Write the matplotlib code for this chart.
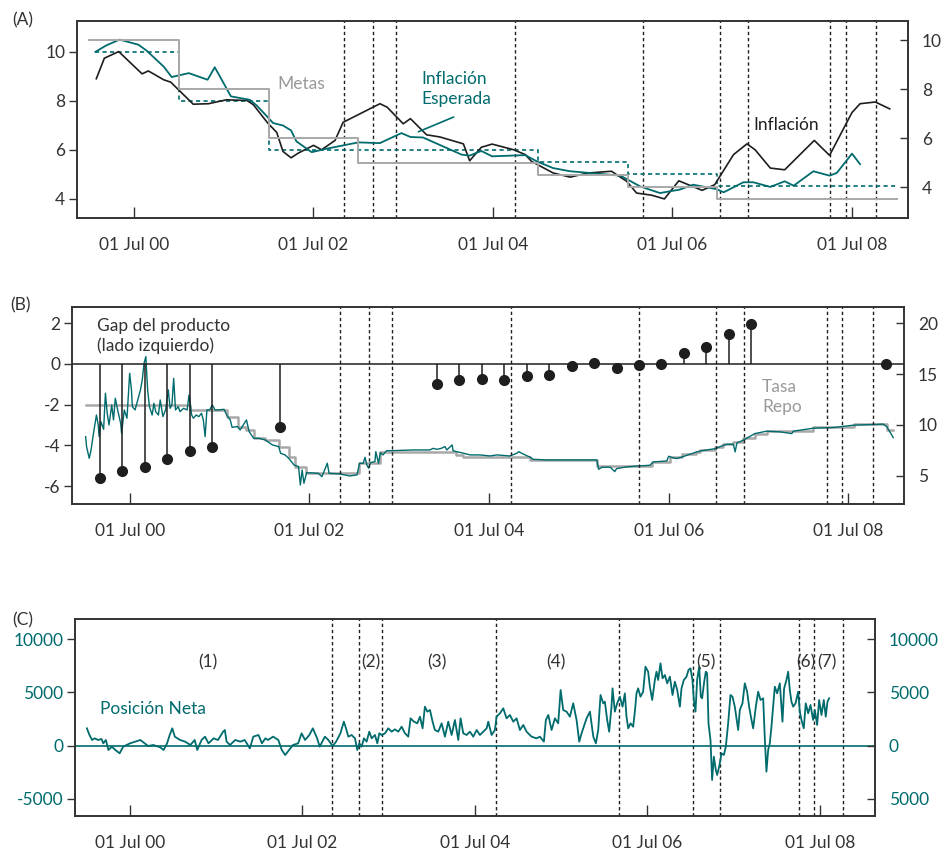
import matplotlib
matplotlib.use("Agg")
import matplotlib.pyplot as plt

plt.rcParams['font.family'] = ['Lato', 'DejaVu Sans']
plt.rcParams['axes.unicode_minus'] = False

TEAL = '#006b6d'
GREY = '#a8a8a8'
BLACK = '#1e1e1e'
TXT = '#333333'

# dates as decimal years
events = [2002.84, 2003.16, 2003.42, 2004.74, 2006.17, 2007.03, 2007.34, 2008.26, 2008.43, 2008.77]
xtick_pos = [2000.5, 2002.5, 2004.5, 2006.5, 2008.5]
xtick_lab = ['01 Jul 00', '01 Jul 02', '01 Jul 04', '01 Jul 06', '01 Jul 08']

# ---- panel A: inflation ----
infl_t = [2000.08, 2000.17, 2000.33, 2000.59, 2000.66, 2000.83, 2000.91, 2001.16, 2001.33, 2001.53,
          2001.76, 2001.83, 2001.99, 2002.09, 2002.16, 2002.25, 2002.33, 2002.50, 2002.59, 2002.74,
          2002.83, 2003.24, 2003.32, 2003.50, 2003.58, 2003.76, 2003.91, 2004.17, 2004.24, 2004.37,
          2004.49, 2004.73, 2004.86, 2004.93, 2005.17, 2005.36, 2005.56, 2005.82, 2005.99, 2006.10,
          2006.27, 2006.41, 2006.57, 2006.83, 2006.97, 2007.18, 2007.33, 2007.42, 2007.59, 2007.75,
          2008.08, 2008.25, 2008.50, 2008.59, 2008.76, 2008.92]
infl_v = [8.90, 9.74, 10.01, 9.10, 9.22, 8.86, 8.76, 7.86, 7.88, 8.04,
          8.01, 7.84, 7.09, 6.71, 5.93, 5.67, 5.86, 6.18, 6.00, 6.38,
          7.12, 7.88, 7.74, 7.06, 7.27, 6.61, 6.52, 6.24, 5.55, 6.10,
          6.23, 6.00, 5.80, 5.52, 5.05, 4.88, 5.05, 5.12, 4.71, 4.23,
          4.14, 3.99, 4.73, 4.34, 4.57, 5.80, 6.24, 6.00, 5.25, 5.18,
          6.38, 5.77, 7.52, 7.88, 7.95, 7.67]

exp_t = [2000.07, 2000.19, 2000.34, 2000.55, 2000.64, 2000.83, 2000.92, 2001.11, 2001.32, 2001.40,
         2001.58, 2001.79, 2001.87, 2002.05, 2002.16, 2002.25, 2002.31, 2002.48, 2002.63, 2003.00,
         2003.24, 2003.48, 2003.58, 2003.72, 2004.15, 2004.24, 2004.37, 2004.49, 2004.86, 2004.99,
         2005.17, 2005.36, 2005.92, 2006.14, 2006.36, 2006.58, 2006.73, 2006.99, 2007.07, 2007.29,
         2007.40, 2007.59, 2007.75, 2007.85, 2008.07, 2008.25, 2008.33, 2008.50, 2008.59]
exp_v = [10.00, 10.26, 10.50, 10.29, 10.05, 9.40, 8.97, 9.13, 8.86, 9.37,
         8.18, 8.04, 7.80, 7.09, 6.99, 6.79, 6.34, 5.90, 6.03, 6.30,
         6.27, 6.68, 6.52, 6.50, 5.80, 5.76, 5.95, 5.73, 5.78, 5.52,
         5.25, 5.12, 4.94, 4.50, 4.23, 4.37, 4.57, 4.39, 4.26, 4.67,
         4.67, 4.48, 4.71, 4.53, 5.12, 4.94, 5.05, 5.84, 5.41]

target_edges = [2000.07, 2001.0, 2002.0, 2005.0, 2006.0, 2007.0, 2009.0]
target_vals = [10.0, 8.0, 6.0, 5.5, 5.0, 4.5]

metas_edges = [2000.0, 2001.0, 2002.0, 2003.0, 2005.0, 2006.0, 2007.0, 2009.0]
metas_vals = [10.0, 8.0, 6.0, 5.0, 4.5, 4.0, 3.5]

# ---- panel B: output gap and repo rate ----
gap_t = [2000.17, 2000.42, 2000.67, 2000.92, 2001.17, 2001.42, 2002.17, 2003.92, 2004.17, 2004.42,
         2004.67, 2004.92, 2005.17, 2005.42, 2005.67, 2005.92, 2006.17, 2006.42, 2006.67, 2006.92,
         2007.17, 2007.42, 2008.92]
gap_v = [-5.61, -5.27, -5.04, -4.65, -4.27, -4.06, -3.09, -0.98, -0.77, -0.74,
         -0.77, -0.61, -0.52, -0.10, 0.05, -0.21, -0.05, -0.02, 0.54, 0.83,
         1.49, 1.96, 0.0]

repo_t = [2000.01, 2001.17, 2001.58, 2001.71, 2001.79, 2001.88, 2002.01, 2002.16, 2002.27, 2002.34,
          2002.46, 2003.05, 2003.29, 2004.13, 2004.21, 2004.96, 2005.70, 2006.31, 2006.52, 2006.65,
          2006.80, 2006.85, 2007.02, 2007.11, 2007.22, 2007.33, 2007.46, 2007.59, 2008.11, 2008.56,
          2008.93, 2009.00]
repo_v = [12.0, 11.5, 10.8, 9.76, 9.5, 8.68, 8.5, 7.86, 6.87, 5.89,
          5.3, 6.28, 7.36, 7.04, 6.81, 6.55, 5.95, 6.35, 6.84, 7.17,
          7.34, 7.5, 7.83, 8.16, 8.32, 8.75, 9.14, 9.38, 9.74, 10.07,
          9.54, 9.54]

tib_t = [2000.01, 2000.02, 2000.05, 2000.07, 2000.10, 2000.13, 2000.15, 2000.16, 2000.18, 2000.21,
         2000.23, 2000.25, 2000.27, 2000.30, 2000.32, 2000.34, 2000.37, 2000.40, 2000.41, 2000.44,
         2000.47, 2000.50, 2000.52, 2000.53, 2000.56, 2000.58, 2000.62, 2000.64, 2000.66, 2000.68,
         2000.70, 2000.72, 2000.75, 2000.77, 2000.79, 2000.82, 2000.84, 2000.87, 2000.90, 2000.93,
         2000.95, 2000.97, 2000.99, 2001.01, 2001.04, 2001.06, 2001.10, 2001.14, 2001.16, 2001.19,
         2001.21, 2001.24, 2001.27, 2001.30, 2001.32, 2001.34, 2001.36, 2001.39, 2001.42, 2001.45,
         2001.49, 2001.55, 2001.58, 2001.62, 2001.64, 2001.70, 2001.73, 2001.80, 2001.83, 2001.88,
         2001.94, 2002.01, 2002.09, 2002.16, 2002.18, 2002.23, 2002.27, 2002.33, 2002.38, 2002.40,
         2002.42, 2002.44, 2002.47, 2002.60, 2002.64, 2002.70, 2002.72,
         2002.84, 2002.95, 2003.03, 2003.06, 2003.10, 2003.12, 2003.14, 2003.16, 2003.18, 2003.23,
         2003.24, 2003.27, 2003.29, 2003.32, 2003.36, 2003.42, 2003.66, 2003.84, 2003.88, 2003.92,
         2003.97, 2004.01, 2004.03, 2004.09, 2004.10, 2004.14, 2004.22, 2004.29, 2004.40, 2004.51,
         2004.59, 2004.73, 2004.81, 2004.83, 2004.88, 2004.96, 2004.99, 2005.14, 2005.33, 2005.63,
         2005.70, 2005.72, 2005.76, 2005.85, 2005.90,
         2005.92, 2006.03, 2006.15, 2006.29, 2006.33, 2006.48, 2006.50, 2006.54, 2006.59, 2006.65,
         2006.78, 2006.85, 2007.02, 2007.11, 2007.15, 2007.22, 2007.24, 2007.26, 2007.33, 2007.46,
         2007.59, 2007.74, 2007.87, 2007.89, 2008.11, 2008.34, 2008.56, 2008.89, 2008.93, 2008.97,
         2009.00]
tib_v = [8.84, 7.86, 6.71, 7.53, 9.33, 10.97, 9.99, 8.84, 10.32, 9.56,
         13.11, 11.14, 9.99, 11.96, 10.48, 12.62, 11.30, 10.15, 9.17, 11.47,
         10.65, 15.08, 13.44, 11.79, 11.47, 12.12, 13.44, 14.42, 16.06, 16.72,
         13.44, 11.79, 10.97, 12.12, 11.30, 10.97, 12.45, 10.81, 11.47, 13.44,
         11.63, 11.96, 14.58, 11.47, 11.79, 11.30, 11.63, 11.47, 12.94, 10.97,
         10.65, 10.97, 10.81, 11.14, 10.48, 8.84, 11.47, 11.47, 11.96, 11.47,
         11.47, 11.53, 10.97, 10.48, 9.76, 9.83, 9.50, 10.48, 9.33, 8.68,
         8.68, 8.51, 8.02, 7.86, 7.20, 7.04, 6.71, 6.05, 5.89, 4.08,
         5.56, 4.25, 5.30, 5.23, 4.90, 6.22, 5.23,
         5.17, 4.97, 5.07, 6.22, 6.22, 6.81, 6.05, 5.73, 6.28, 6.38,
         7.36, 6.22, 7.27, 7.04, 7.46, 7.46, 7.53, 7.53, 7.69, 7.59,
         7.69, 7.86, 7.53, 8.02, 7.46, 7.36, 7.20, 7.04, 7.04, 6.94,
         7.04, 6.94, 7.20, 7.36, 7.13, 6.81, 6.61, 6.55, 6.55, 6.55,
         6.55, 5.63, 5.83, 5.83, 5.40,
         5.69, 5.86, 5.95, 6.02, 6.35, 6.45, 6.91, 6.78, 6.68, 6.84,
         7.24, 7.43, 7.66, 7.99, 8.09, 8.09, 7.34, 8.22, 8.49, 9.14,
         9.38, 9.31, 9.14, 9.38, 9.67, 9.74, 9.97, 10.07, 9.80, 9.21,
         8.75]

# ---- panel C: net position ----
pos_t = [2000.00, 2000.03, 2000.06, 2000.09, 2000.13, 2000.17, 2000.19, 2000.22, 2000.25, 2000.29,
         2000.33, 2000.38, 2000.42, 2000.46, 2000.50, 2000.56, 2000.62, 2000.67, 2000.71, 2000.77,
         2000.85, 2000.89, 2000.93, 2000.96, 2000.99, 2001.02, 2001.08, 2001.14, 2001.20, 2001.25,
         2001.28, 2001.33, 2001.37, 2001.41, 2001.47, 2001.52, 2001.58, 2001.60, 2001.62, 2001.66,
         2001.72, 2001.78, 2001.83, 2001.89, 2001.93, 2001.99, 2002.03, 2002.07, 2002.10, 2002.16,
         2002.22, 2002.26, 2002.30, 2002.36, 2002.39, 2002.45, 2002.49, 2002.53, 2002.58, 2002.62,
         2002.67, 2002.70, 2002.76, 2002.80, 2002.85, 2002.89, 2002.94, 2002.98,
         2003.005, 2003.032, 2003.070, 2003.109, 2003.136, 2003.159, 2003.186, 2003.213, 2003.244, 2003.275,
         2003.302, 2003.341, 2003.368, 2003.391, 2003.418, 2003.457, 2003.495, 2003.534, 2003.573, 2003.611,
         2003.650, 2003.689, 2003.727, 2003.754, 2003.793, 2003.832, 2003.863, 2003.893, 2003.920, 2003.948,
         2003.979, 2004.009, 2004.036, 2004.075, 2004.114, 2004.152, 2004.191, 2004.230, 2004.268, 2004.307,
         2004.334, 2004.365, 2004.404, 2004.442, 2004.481, 2004.520, 2004.558, 2004.597, 2004.636, 2004.655,
         2004.694, 2004.732, 2004.751, 2004.790, 2004.829, 2004.867, 2004.906, 2004.945, 2004.983, 2005.022,
         2005.061, 2005.099, 2005.157, 2005.215, 2005.254, 2005.300, 2005.323, 2005.351, 2005.389, 2005.428,
         2005.466, 2005.494, 2005.524, 2005.563, 2005.602, 2005.640, 2005.679, 2005.710, 2005.737, 2005.795,
         2005.834, 2005.873, 2005.903, 2005.930, 2005.957, 2005.988,
         2006.007, 2006.034, 2006.057, 2006.084, 2006.096, 2006.123, 2006.150, 2006.181, 2006.212, 2006.239,
         2006.258, 2006.278, 2006.305, 2006.335, 2006.355, 2006.374, 2006.393, 2006.420, 2006.451, 2006.478,
         2006.509, 2006.529, 2006.556, 2006.587, 2006.606, 2006.625, 2006.652, 2006.676, 2006.703, 2006.730,
         2006.761, 2006.792, 2006.819, 2006.846, 2006.877, 2006.896, 2006.923, 2006.954, 2006.977, 2007.000,
         2007.023, 2007.039, 2007.058, 2007.077, 2007.101, 2007.120, 2007.135, 2007.159, 2007.178, 2007.193,
         2007.209, 2007.232, 2007.251, 2007.271, 2007.294, 2007.309, 2007.333, 2007.360, 2007.387, 2007.410,
         2007.437, 2007.464, 2007.487, 2007.514, 2007.534, 2007.553, 2007.572, 2007.603, 2007.630, 2007.657,
         2007.680, 2007.708, 2007.727, 2007.758, 2007.785, 2007.812, 2007.843, 2007.862, 2007.881, 2007.901,
         2007.920, 2007.939, 2007.959, 2007.978, 2008.005, 2008.036, 2008.067, 2008.086, 2008.113, 2008.133,
         2008.152, 2008.171, 2008.191, 2008.218, 2008.249, 2008.268, 2008.287, 2008.314, 2008.337, 2008.365,
         2008.392, 2008.422, 2008.442, 2008.469, 2008.492, 2008.519, 2008.546, 2008.569, 2008.589, 2008.608]
pos_v = [1629, 1004, 535, 691, 535, 628, 222, 535, -403, -91,
         -403, -716, -91, 66, 222, 378, 535, 222, -28, 66,
         -153, -403, 222, 1004, 1629, 847, 535, 378, 66, 535,
         -403, 535, 847, 222, 691, 535, 1316, 1473, 378, 66,
         535, 378, 535, -247, 847, 1004, 222, 691, 535, 847,
         535, -403, -872, -247, 66, 222, 1160, 535, 1004, 1629,
         691, -91, 847, 535, -28, 378, 1160, 2254,
         1629, 847, 1004, 691, -403, 222, -91, 691, 378, 1316,
         691, 1004, 222, 1160, 1004, 1160, 1629, 1316, 1535, 1316,
         1785, 1160, 847, 2567, 2254, 2098, 2723, 1629, 3661, 3192,
         3349, 2254, 1473, 1316, 2098, 847, 2254, 1004, 2411, 535,
         2567, 1160, 1004, 1316, 847, 1473, 1004, 1316, 1629, 2254,
         1004, 1473, 2723, 3036, 3505, 2567, 2880, 2254, 2567, 1473,
         1941, 1316, 847, 691, 847, 378, 2411, 2880, 1473, 2567,
         2098, 5225, 3349, 3192, 2723, 3974, 2411, 378, 1160, 2567,
         3192, 847, 222, 1473, 4756, 3974,
         4130, 2411, 1316, 3661, 5381, 3192, 3974, 4599, 3661, 4912,
         2723, 1629, 2098, 1785, 3192, 4912, 5381, 4599, 5068, 7413,
         6944, 5537, 4287, 6163, 6944, 6163, 7726, 6319, 6632, 5850,
         6475, 4756, 6006, 5225, 3661, 5381, 6163, 6475, 7101, 7257,
         6163, 4287, 3192, 6163, 7413, 4599, 4443, 6006, 6944, 6788,
         2098, 535, -3217, -1029, -2279, -2748, -1967, -716, -872, -91,
         2098, 4756, 4599, 3661, 2567, 1473, 3349, 3974, 5850, 5068,
         3661, 2411, 1629, 3661, 5068, 4287, 4443, 691, -2436, -403,
         222, 1785, 3661, 5537, 4912, 5850, 2254, 5381, 6163, 6944,
         5225, 4130, 3661, 3974, 5068, 3192, 2411, 1629, 3974, 3036,
         3818, 2411, 3349, 1941, 4287, 2880, 4287, 2723, 4130, 4443]

period_t = [2001.40, 2003.29, 2004.06, 2005.44, 2007.18, 2008.34, 2008.58]
period_lab = ['(1)', '(2)', '(3)', '(4)', '(5)', '(6)', '(7)']

W, H = 944, 851
fig = plt.figure(figsize=(W / 100, H / 100), dpi=100)


def frame(left, right, top, bottom):
    return fig.add_axes([left / W, 1 - bottom / H, (right - left) / W, (bottom - top) / H])


def style(ax, xlim, ycolor=TXT):
    ax.set_xlim(*xlim)
    ax.set_xticks(xtick_pos)
    ax.set_xticklabels(xtick_lab)
    ax.tick_params(axis='x', direction='in', length=8, width=1, pad=13.5,
                   labelsize=12.5, labelcolor=TXT, color='#333333')
    ax.tick_params(axis='y', direction='out', length=5.5, width=1, pad=3,
                   labelsize=12.5, labelcolor=ycolor, color='#333333')
    for s in ax.spines.values():
        s.set_linewidth(1.2)
        s.set_color('#333333')
    for e in events:
        ax.axvline(e, color=BLACK, lw=1.0, ls=(0, (2.4, 2.0)), zorder=1)


def style_right(ax, ycolor=TXT):
    ax.tick_params(axis='y', direction='in', length=6, width=1, pad=10,
                   labelsize=12.5, labelcolor=ycolor, color='#333333')
    for s in ax.spines.values():
        s.set_linewidth(1.2)
        s.set_color('#333333')


# ---------------- (A) ----------------
axA = frame(77, 908, 21, 218)
style(axA, (1999.865, 2009.124))
axA.set_ylim(3.21, 11.26)
axA.set_yticks([4, 6, 8, 10])
axA.plot(infl_t, infl_v, color=BLACK, lw=1.2, zorder=3)
axA.plot(exp_t, exp_v, color=TEAL, lw=1.3, zorder=3)
axA.step(target_edges, target_vals + [target_vals[-1]], where='post',
         color=TEAL, lw=1.2, ls=(0, (2.5, 2.0)), zorder=2)
axAR = axA.twinx()
axAR.set_ylim(2.74, 10.79)
axAR.set_yticks([4, 6, 8, 10])
style_right(axAR)
axAR.step(metas_edges, metas_vals + [metas_vals[-1]], where='post', color=GREY, lw=1.4)

axA.text(2002.36, 8.68, 'Metas', color='#9a9a9a', fontsize=12.5, ha='center', va='center')
axA.text(2003.70, 8.48, 'Inflación\nEsperada', color=TEAL, fontsize=12.5, ha='left',
         va='center', linespacing=1.25)
axA.annotate('', xy=(2003.64, 6.69), xytext=(2004.09, 7.38),
             arrowprops=dict(arrowstyle='-', color=TEAL, lw=1.2))
axA.text(2007.40, 7.01, 'Inflación', color=BLACK, fontsize=12.5, ha='left', va='center')
fig.text(12 / W, 1 - 20 / H, '(A)', fontsize=12.5, color=TXT, va='center')

# ---------------- (B) ----------------
axB = frame(72, 904, 307, 504)
style(axB, (1999.858, 2009.12))
axB.set_ylim(-6.88, 2.80)
axB.set_yticks([-6, -4, -2, 0, 2])
axB.axhline(0, color=BLACK, lw=1.1, zorder=2)
axBR = axB.twinx()
axBR.set_ylim(2.21, 21.6)
axBR.set_yticks([5, 10, 15, 20])
style_right(axBR)
axBR.step(repo_t, repo_v, where='post', color=GREY, lw=1.8, zorder=2)
axBR.plot(tib_t, tib_v, color=TEAL, lw=1.0, zorder=3)
axB.set_zorder(axBR.get_zorder() + 1)
axB.patch.set_visible(False)
axB.vlines(gap_t, 0, gap_v, color=BLACK, lw=1.1, zorder=3)
axB.plot(gap_t, gap_v, 'o', color=BLACK, ms=7, zorder=4)

axB.text(2000.14, 1.38, 'Gap del producto\n(lado izquierdo)', color=TXT, fontsize=12.5,
         ha='left', va='center', linespacing=1.25)
axB.text(2007.54, -1.62, 'Tasa\nRepo', color='#9a9a9a', fontsize=12.5, ha='left',
         va='center', linespacing=1.25)
fig.text(10 / W, 1 - 305 / H, '(B)', fontsize=12.5, color=TXT, va='center')

# ---------------- (C) ----------------
axC = frame(75, 875, 619, 816)
style(axC, (1999.862, 2009.14), ycolor=TEAL)
axC.set_ylim(-6595, 11885)
axC.set_yticks([-5000, 0, 5000, 10000])
axC.set_yticklabels(['-5000', '0', '5000', '10000'])
axC.axhline(0, color=TEAL, lw=1.2, zorder=2)
axC.plot(pos_t, pos_v, color=TEAL, lw=1.3, zorder=3)
axCR = axC.twinx()
axCR.set_ylim(-6595, 11885)
axCR.set_yticks([-5000, 0, 5000, 10000])
axCR.set_yticklabels(['5000', '0', '5000', '10000'])
style_right(axCR, ycolor=TEAL)
for t, lab in zip(period_t, period_lab):
    axC.text(t, 7851, lab, color=TXT, fontsize=12.5, ha='center', va='center')
axC.text(2000.15, 3442, 'Posición Neta', color=TEAL, fontsize=12.5, ha='left', va='center')
fig.text(12 / W, 1 - 620 / H, '(C)', fontsize=12.5, color=TXT, va='center')

fig.savefig('out.png', dpi=100)
